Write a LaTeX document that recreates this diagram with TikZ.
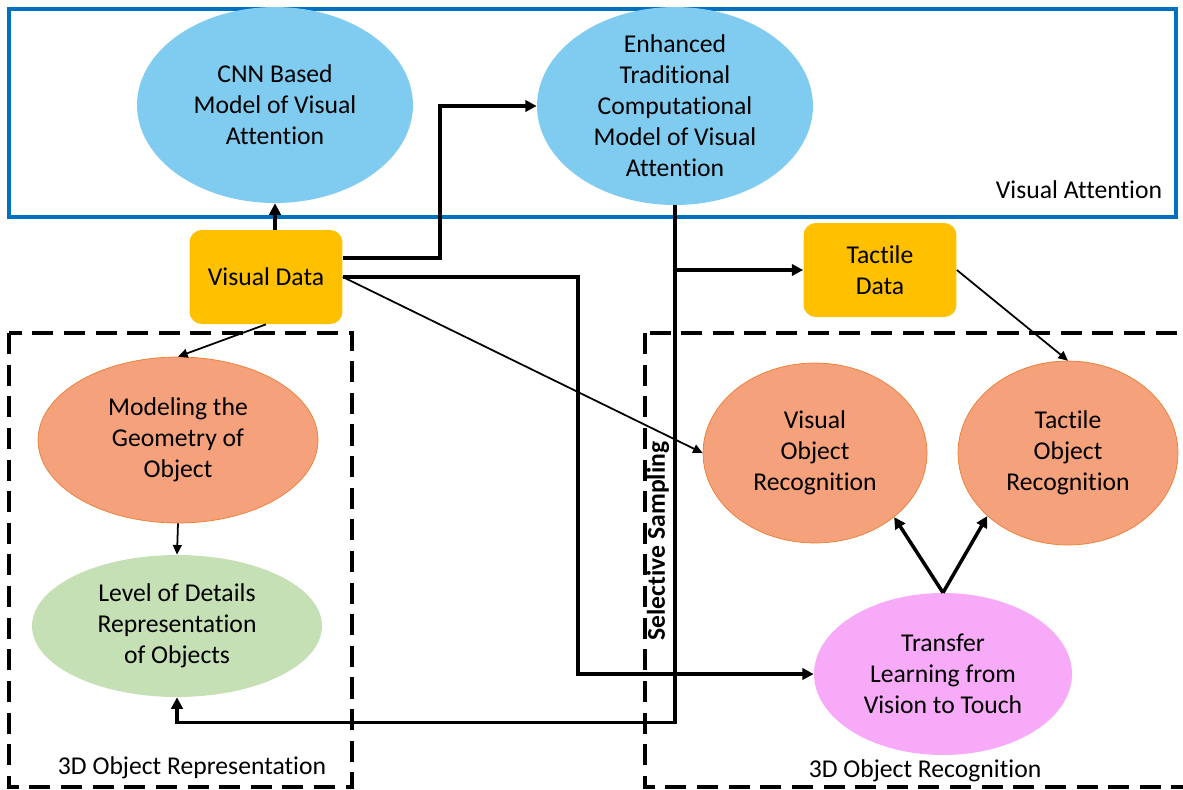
\documentclass[tikz,border=0pt]{standalone}
\usepackage{fontspec}
\setmainfont{Carlito}[Ligatures=NoCommon]
\usetikzlibrary{arrows.meta,shapes.geometric}
\definecolor{skyblue}{RGB}{127,204,240}
\definecolor{amber}{RGB}{255,192,0}
\definecolor{salmon}{RGB}{244,161,124}
\definecolor{salmonline}{RGB}{237,125,49}
\definecolor{sage}{RGB}{197,224,180}
\definecolor{orchid}{RGB}{247,170,247}
\definecolor{frameblue}{RGB}{0,112,192}
\tikzset{
  blob/.style={ellipse, inner sep=0pt, align=center},
  databox/.style={rectangle, rounded corners=7pt, fill=amber, minimum width=3.06cm, minimum height=1.88cm, align=center},
  thickarrow/.style={line width=2pt, -{Triangle[length=6.5pt,width=6.5pt]}},
  thinarrow/.style={line width=1pt, -{Triangle[length=5.5pt,width=5pt]}},
  groupbox/.style={line width=2pt, dash pattern=on 12pt off 6pt},
}
\begin{document}
\begin{tikzpicture}[x=0.02cm,y=-0.02cm,font=\fontsize{14.6}{17.6}\selectfont]
\useasboundingbox (0,0) rectangle (1183,789);
\draw [frameblue, line width=2.1pt] (9,9) rectangle (1176,217);
\draw [groupbox] (9,333) rectangle (352,787);
\draw [groupbox] (645,333) rectangle (1200,787);
\node [blob, fill=skyblue, minimum width=5.52cm, minimum height=3.92cm] (cnn) at (275,105) {CNN Based\\Model of Visual\\Attention};
\node [blob, fill=skyblue, minimum width=5.52cm, minimum height=3.96cm, inner ysep=-4pt] (enh) at (675,106) {Enhanced\\Traditional\\Computational\\Model of Visual\\Attention};
\node [databox] (vd) at (266,277) {Visual Data};
\node [databox] (td) at (880,270) {Tactile\\Data};
\node [blob, fill=salmon, draw=salmonline, line width=0.4pt, minimum width=5.6cm, minimum height=3.32cm] (mod) at (178,440) {Modeling the\\Geometry of\\Object};
\node [blob, fill=sage, minimum width=5.8cm, minimum height=2.84cm] (lod) at (177,626) {Level of Details\\Representation\\of Objects};
\node [blob, fill=salmon, draw=salmonline, line width=0.4pt, minimum width=4.48cm, minimum height=3.6cm] (vor) at (815,453) {Visual\\Object\\Recognition};
\node [blob, fill=salmon, draw=salmonline, line width=0.4pt, minimum width=4.4cm, minimum height=3.68cm] (tor) at (1068,453) {Tactile\\Object\\Recognition};
\node [blob, fill=orchid, minimum width=5.16cm, minimum height=3.24cm] (tr) at (943,674) {Transfer\\Learning from\\Vision to Touch};
\node (attn) at (1079,190) {Visual Attention};
\node (rep) at (192,768) {3D Object Representation};
\node (rec) at (925,771) {3D Object Recognition};
\node [rotate=90] (sampling) at (658,541) {\textbf{Selective Sampling}};
\draw [thickarrow] (vd.north -| cnn.south) -- (cnn.south);
\draw [thickarrow] ([yshift=0.38cm]vd.east) -- ++(97,0) |- (enh.west);
\draw [thickarrow] (vd.east) -- ++(235,0) |- (tr.west);
\draw [thinarrow] (vd.east) -- (vor.west);
\draw [thinarrow] (vd.south) -- (mod.north);
\draw [thinarrow] (mod.south) -- (lod.north);
\draw [thickarrow] (enh.south) -- ++(0,517) -| (lod.south);
\draw [thickarrow] (enh.south |- td.west) -- (td.west);
\draw [thinarrow] (td.east) -- (tor.north);
\draw [thickarrow] (tr.north) -- (vor.-39);
\draw [thickarrow] (tr.north) -- (tor.218);
\end{tikzpicture}
\end{document}
